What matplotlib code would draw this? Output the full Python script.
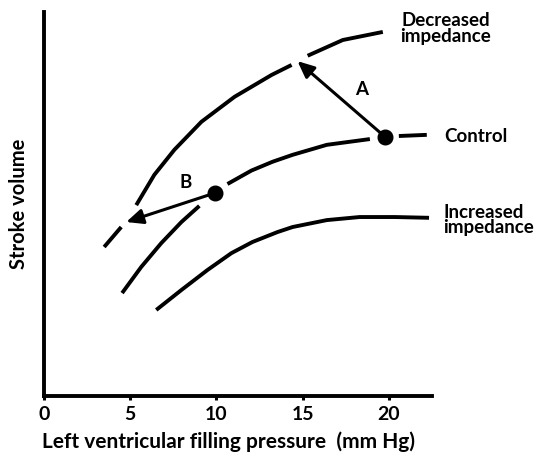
import numpy as np
import matplotlib
matplotlib.use('Agg')
import matplotlib.pyplot as plt

nan = np.nan

# ── Data (x = filling pressure, y = stroke volume, arbitrary units) ──
# np.nan marks the breaks that the original drawing leaves around arrows and points
dec_x = [3.49, 4.48, nan, 5.35, 6.40, 7.56, 9.13, 11.05, 13.2, 14.36, nan, 15.29, 17.33, 19.65]
dec_y = [38.8, 44.0, nan, 49.7, 57.6, 64.1, 71.4, 77.9, 83.6, 86.2, nan, 88.6, 92.7, 94.8]

ctl_x = [4.53, 5.64, 6.80, 7.97, 9.01, nan, 10.64, 12.03, 13.26, 14.42, 16.4, 18.9, nan, 20.58, 22.2]
ctl_y = [26.8, 33.6, 39.8, 45.3, 49.5, nan, 55.2, 58.7, 61.0, 62.8, 65.4, 66.9, nan, 67.7, 68.0]

inc_x = [6.51, 7.97, 9.48, 10.87, 12.09, 13.55, 14.42, 16.4, 18.3, 20.35, 22.33]
inc_y = [22.4, 27.6, 32.8, 37.2, 40.1, 42.7, 44.0, 45.8, 46.6, 46.6, 46.4]

# control operating points and where the arrows go
pt_a = (19.8, 67.4)
pt_b = (9.94, 52.9)
tip_a = (14.7, 87.2)
tip_b = (4.77, 45.3)

xticks = [0, 5, 10, 15, 20]

# ── Figure ───────────────────────────────────────────────────────────────────
plt.rcParams['font.family'] = ['Lato', 'DejaVu Sans']
fig = plt.figure(figsize=(5.35, 4.55), dpi=100)
ax = fig.add_axes([0.0822, 0.1297, 0.7252, 0.8440])
ax.set_xlim(0, 22.5)
ax.set_ylim(0, 100)

line_kw = dict(color='black', lw=2.8, solid_capstyle='butt', solid_joinstyle='round')
ax.plot(dec_x, dec_y, **line_kw)
ax.plot(ctl_x, ctl_y, **line_kw)
ax.plot(inc_x, inc_y, **line_kw)

# arrows A and B
for start, tip in [(pt_a, tip_a), (pt_b, tip_b)]:
    ax.annotate('', xy=tip, xytext=start,
                arrowprops=dict(arrowstyle='-|>,head_length=1.0,head_width=0.45',
                                color='black', lw=2.2, shrinkA=0, shrinkB=0,
                                mutation_scale=10),
                zorder=4)

ax.plot([pt_a[0], pt_b[0]], [pt_a[1], pt_b[1]], 'o', color='black', ms=10.5, zorder=5)

# ── Labels ───────────────────────────────────────────────────────────────────
txt = dict(fontsize=13.5, fontweight='bold', color='black')
ax.text(18.43, 79.7, 'A', ha='center', va='center', **txt)
ax.text(8.2, 55.5, 'B', ha='center', va='center', **txt)
ax.text(23.3, 95.7, 'Decreased\nimpedance', ha='center', va='center',
        linespacing=0.9, clip_on=False, **txt)
ax.text(23.2, 67.7, 'Control', ha='left', va='center', clip_on=False, **txt)
ax.text(23.15, 45.8, 'Increased\nimpedance', ha='left', va='center',
        linespacing=0.9, clip_on=False, **txt)

# ── Axes styling ─────────────────────────────────────────────────────────────
for s in ['top', 'right']:
    ax.spines[s].set_visible(False)
for s in ['left', 'bottom']:
    ax.spines[s].set_linewidth(2.8)
ax.set_xticks(xticks)
ax.set_xticklabels([str(t) for t in xticks], fontsize=14, fontweight='bold')
ax.tick_params(axis='x', direction='out', length=3, width=2.2, pad=4)
ax.set_yticks([])
ax.set_xlabel('Left ventricular filling pressure  (mm Hg)', fontsize=15,
              fontweight='bold')
ax.xaxis.set_label_coords(0.475, -0.093)
ax.set_ylabel('Stroke volume', fontsize=14.5, fontweight='bold', labelpad=11)

fig.savefig('out.png', dpi=100, facecolor='white')
